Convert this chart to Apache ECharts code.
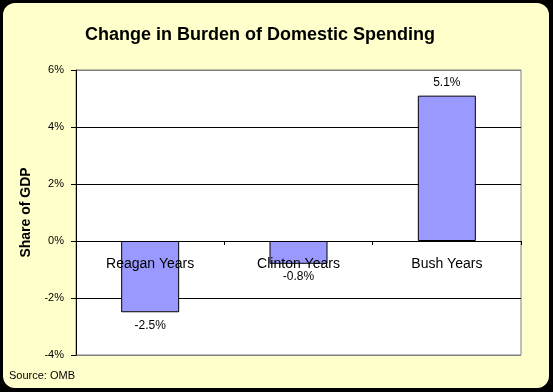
<!DOCTYPE html>
<html>
<head>
<meta charset="utf-8">
<script src="https://cdn.jsdelivr.net/npm/echarts@6/dist/echarts.min.js"></script>
<style>
html,body{margin:0;padding:0;background:#000;}
#c{width:553px;height:392px;}
</style>
</head>
<body>
<div id="c"></div>
<script>
var categories = ['Reagan Years', 'Clinton Years', 'Bush Years'];
var values = [-2.5, -0.8, 5.1];
var yTicks = { min: -4, max: 6, interval: 2 };
var titleText = 'Change in Burden of Domestic Spending';
var sourceText = 'Source: OMB';
var yName = 'Share of GDP';

var FONT = '"Liberation Sans", Arial, sans-serif';
var chart = echarts.init(document.getElementById('c'), null, { renderer: 'canvas' });

var gridTop = 70, gridBottom = 37, chartH = 392;
var plotH = chartH - gridTop - gridBottom;
// pixel distance from the bottom of the plot up to the zero line
var zeroOffset = plotH * (0 - yTicks.min) / (yTicks.max - yTicks.min);

var barData = values.map(function (v) {
  return {
    value: v,
    label: { position: v < 0 ? 'bottom' : 'top' }
  };
});

chart.setOption({
  backgroundColor: '#000',
  animation: false,
  graphic: [
    {
      type: 'rect', z: -10, silent: true,
      shape: { x: 3, y: 3, width: 546, height: 385, r: 12 },
      style: { fill: '#FFFFCC' }
    },
    {
      type: 'text', left: 9, top: 370, z: 10,
      style: { text: sourceText, font: '11px ' + FONT, fill: '#000' }
    }
  ],
  title: {
    text: titleText,
    left: 80, top: 21,
    textStyle: { fontFamily: FONT, fontSize: 18, fontWeight: 'bold', color: '#000' }
  },
  grid: {
    left: 76, right: 32, top: gridTop, bottom: gridBottom,
    show: true, backgroundColor: '#fff', borderColor: '#808080', borderWidth: 1
  },
  xAxis: {
    type: 'category',
    data: categories,
    position: 'bottom',
    offset: -zeroOffset,
    z: 5,
    axisLine: { show: true, onZero: false, lineStyle: { color: '#000', width: 1 } },
    axisTick: { show: true, length: 4, lineStyle: { color: '#000' } },
    axisLabel: { margin: 16, fontFamily: FONT, fontSize: 14, color: '#000' },
    splitLine: { show: false }
  },
  yAxis: {
    type: 'value',
    min: yTicks.min, max: yTicks.max, interval: yTicks.interval,
    name: yName,
    nameLocation: 'middle',
    nameGap: 43,
    nameTextStyle: { fontFamily: FONT, fontSize: 14, fontWeight: 'bold', color: '#000' },
    axisLine: { show: true, lineStyle: { color: '#000', width: 1 } },
    axisTick: { show: true, length: 5, lineStyle: { color: '#000' } },
    axisLabel: { margin: 12, fontFamily: FONT, fontSize: 11, color: '#000', formatter: '{value}%' },
    splitLine: { show: true, lineStyle: { color: ['#808080', '#000', '#000', '#000', '#000', '#808080'], width: 1 } }
  },
  series: [{
    type: 'bar',
    data: barData,
    barWidth: 58,
    itemStyle: { color: '#9999FF', borderColor: '#000', borderWidth: 1 },
    label: {
      show: true, distance: 7,
      fontFamily: FONT, fontSize: 12, color: '#000',
      formatter: function (p) { return p.value.toFixed(1) + '%'; }
    }
  }]
});
</script>
</body>
</html>
